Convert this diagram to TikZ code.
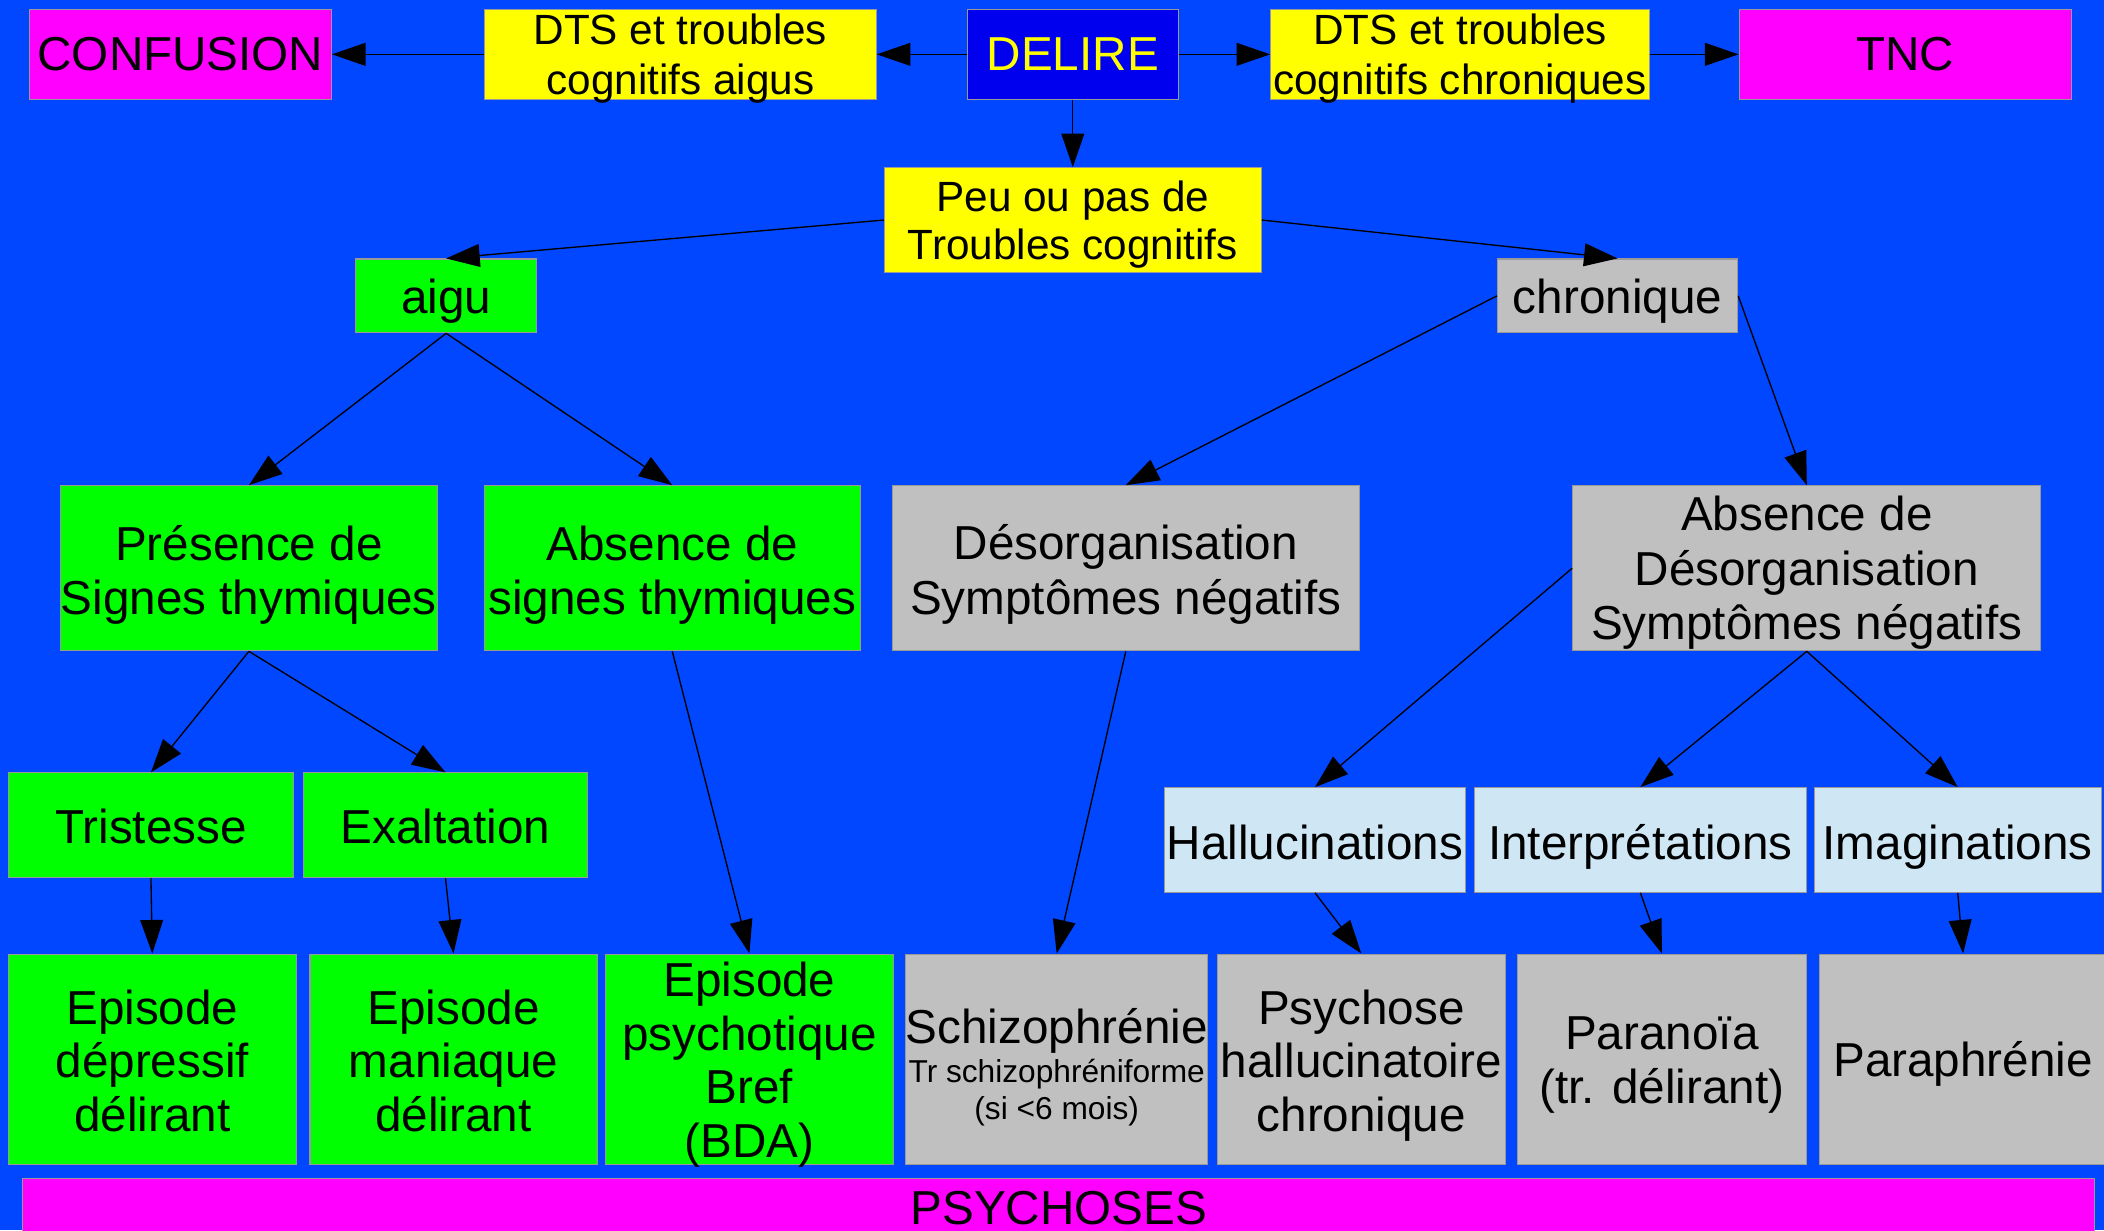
\documentclass[tikz,border=0pt]{standalone}
\usepackage{fontspec}
\setmainfont{Liberation Sans}
\usetikzlibrary{arrows.meta}
\definecolor{bgblue}{HTML}{0047FF}
\definecolor{deepblue}{HTML}{0000EE}
\definecolor{ylw}{HTML}{FFFF00}
\definecolor{mag}{HTML}{FF00FF}
\definecolor{grn}{HTML}{00FF00}
\definecolor{gry}{HTML}{C0C0C0}
\definecolor{lblue}{HTML}{CFE7F5}
\newcommand\bigf{\fontsize{35.5}{39}\selectfont}
\newcommand\midf{\fontsize{31.5}{37}\selectfont}
\newcommand\botf{\fontsize{35.5}{40}\selectfont}
\newcommand\smf{\fontsize{23.6}{40}\selectfont}
\newcommand\st{\rule[-0.212em]{0pt}{1.117em}}
% text block (lines separated by \cr), every line with a strut, lifted by #1 without changing its reported size
\newcommand\mls[2]{\raisebox{#1}[\height][\depth]{\vbox{\halign{\hfil\st##\hfil\cr#2\crcr}}}}
% same without struts, lowered by #1
\newcommand\ml[2]{\raisebox{-#1}[\height][\depth]{\vbox{\halign{\hfil##\hfil\cr#2\crcr}}}}
\tikzset{
  box/.style={draw=black!40, line width=0.8pt, inner sep=0pt, font=\bigf, text=black},
  arr/.style={draw=black, line width=1pt, -{Triangle[length=25pt,width=17pt]}},
}
\begin{document}
\begin{tikzpicture}[x=1pt,y=-1pt]
\clip (0,0) rectangle (1568,917);
\fill[bgblue] (0,0) rectangle (1568,917);
% top row
\node[box, fill=mag, minimum width=225, minimum height=67] (conf) at (134.5,40.5) {CONFUSION};
\node[box, fill=ylw, minimum width=292, minimum height=67, font=\midf] (dtsa) at (507,40.5) {\ml{3pt}{DTS et troubles\cr cognitifs aigus}};
\node[box, fill=deepblue, minimum width=157, minimum height=67, text=ylw] (delire) at (799.5,40.5) {DELIRE};
\node[box, fill=ylw, minimum width=282, minimum height=67, font=\midf] (dtsc) at (1088,40.5) {\ml{3pt}{DTS et troubles\cr cognitifs chroniques}};
\node[box, fill=mag, minimum width=248, minimum height=67] (tnc) at (1420,40.5) {TNC};
% second level
\node[box, fill=ylw, minimum width=281, minimum height=78, font=\fontsize{31.5}{36}\selectfont] (peu) at (799.5,164) {\mls{-0.5pt}{Peu ou pas de\cr Troubles cognitifs}};
\node[box, fill=grn, minimum width=135, minimum height=55] (aigu) at (332.5,220.5) {\mls{-0.5pt}{aigu}};
\node[box, fill=gry, minimum width=179, minimum height=55] (chron) at (1205.5,220.5) {\mls{-0.5pt}{chronique}};
% third level
\node[box, fill=grn, minimum width=281, minimum height=123] (pres) at (185.5,423.5) {\mls{-2pt}{Présence de\cr Signes thymiques}};
\node[box, fill=grn, minimum width=280, minimum height=123] (abs) at (501,423.5) {\mls{-2pt}{Absence de\cr signes thymiques}};
\node[box, fill=gry, minimum width=348, minimum height=123] (desorg) at (839,423.5) {\mls{-1.5pt}{Désorganisation\cr Symptômes négatifs}};
\node[box, fill=gry, minimum width=349, minimum height=123] (absdes) at (1346.5,423.5) {\mls{-0.5pt}{Absence de\cr Désorganisation\cr Symptômes négatifs}};
% fourth level
\node[box, fill=grn, minimum width=213, minimum height=78] (trist) at (112.5,615) {\mls{-1pt}{Tristesse}};
\node[box, fill=grn, minimum width=212, minimum height=78] (exalt) at (332,615) {\mls{-1pt}{Exaltation}};
\node[box, fill=lblue, minimum width=224, minimum height=78] (hall) at (980,626) {\mls{-2pt}{Hallucinations}};
\node[box, fill=lblue, minimum width=247, minimum height=78] (interp) at (1222.5,626) {\mls{-2pt}{Interprétations}};
\node[box, fill=lblue, minimum width=214, minimum height=78] (imag) at (1459,626) {\mls{-2pt}{Imaginations}};
% bottom row
\node[box, fill=grn, minimum width=215, minimum height=157, font=\botf] (epdep) at (113.5,789.5) {\mls{-1.5pt}{Episode\cr dépressif\cr délirant}};
\node[box, fill=grn, minimum width=214, minimum height=157, font=\botf] (epman) at (338,789.5) {\mls{-1.5pt}{Episode\cr maniaque\cr délirant}};
\node[box, fill=grn, minimum width=215, minimum height=157, font=\botf] (eppsy) at (558.5,789.5) {\ml{4pt}{Episode\cr psychotique\cr Bref\cr (BDA)}};
\node[box, fill=gry, minimum width=225, minimum height=157, font=\botf] (schizo) at (787.5,789.5) {\ml{6pt}{Schizophrénie\cr\noalign{\kern-11pt}\smf Tr schizophréniforme\cr\noalign{\kern-12pt}\smf (si <6 mois)}};
\node[box, fill=gry, minimum width=215, minimum height=157, font=\botf] (psych) at (1014.5,789.5) {\mls{-1.5pt}{Psychose\cr hallucinatoire\cr chronique}};
\node[box, fill=gry, minimum width=215, minimum height=157, font=\botf] (para) at (1238.5,789.5) {\mls{-0.5pt}{Paranoïa\cr (tr. délirant)}};
\node[box, fill=gry, minimum width=214, minimum height=157, font=\botf] (paraph) at (1463,789.5) {\mls{-0.5pt}{Paraphrénie}};
\node[box, fill=mag, minimum width=1544, minimum height=43] (psychoses) at (789,900) {PSYCHOSES};
% connectors
\draw[arr] (dtsa.west) -- (conf.east);
\draw[arr] (delire.west) -- (dtsa.east);
\draw[arr] (delire.east) -- (dtsc.west);
\draw[arr] (dtsc.east) -- (tnc.west);
\draw[arr] (delire.south) -- (peu.north);
\draw[arr] (peu.west) -- (aigu.north);
\draw[arr] (peu.east) -- (chron.north);
\draw[arr] (aigu.south) -- (pres.north);
\draw[arr] (aigu.south) -- (abs.north);
\draw[arr] (chron.west) -- (desorg.north);
\draw[arr] (chron.east) -- (absdes.north);
\draw[arr] (pres.south) -- (trist.north);
\draw[arr] (pres.south) -- (exalt.north);
\draw[arr] (abs.south) -- (eppsy.north);
\draw[arr] (desorg.south) -- (schizo.north);
\draw[arr] (absdes.west) -- (hall.north);
\draw[arr] (absdes.south) -- (interp.north);
\draw[arr] (absdes.south) -- (imag.north);
\draw[arr] (trist.south) -- (epdep.north);
\draw[arr] (exalt.south) -- (epman.north);
\draw[arr] (hall.south) -- (psych.north);
\draw[arr] (interp.south) -- (para.north);
\draw[arr] (imag.south) -- (paraph.north);
\end{tikzpicture}
\end{document}
